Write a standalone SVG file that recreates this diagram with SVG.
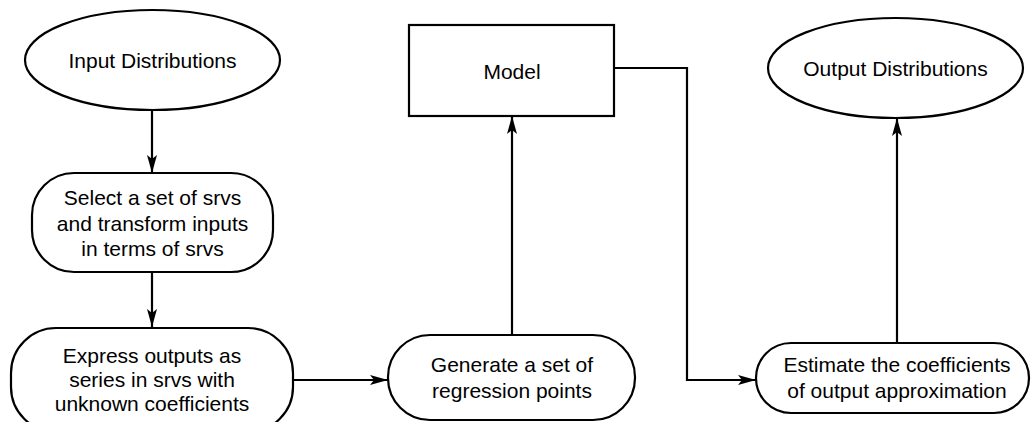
<svg xmlns="http://www.w3.org/2000/svg" width="1031" height="422" viewBox="0 0 1031 422">
<style>
.shape{fill:#fff;stroke:#000;stroke-width:2.2}
.conn{fill:none;stroke:#000;stroke-width:2.2}
text{font-family:"Liberation Sans",Arial,sans-serif;font-size:21px;fill:#000;text-anchor:middle}
</style>
<defs>
<marker id="arr" viewBox="0 0 18 10" refX="18" refY="5" markerWidth="18" markerHeight="10" markerUnits="userSpaceOnUse" orient="auto">
<path d="M0,0 L18,5 L0,10 L4,5 z" fill="#000"/>
</marker>
</defs>
<g id="connectors">
<line class="conn" x1="152" y1="110" x2="152" y2="173" marker-end="url(#arr)"/>
<line class="conn" x1="152" y1="272" x2="152" y2="327" marker-end="url(#arr)"/>
<line class="conn" x1="293" y1="380" x2="388" y2="380" marker-end="url(#arr)"/>
<line class="conn" x1="512" y1="335" x2="512" y2="116" marker-end="url(#arr)"/>
<polyline class="conn" points="614,68 687,68 687,380 756,380" marker-end="url(#arr)"/>
<line class="conn" x1="897" y1="343" x2="897" y2="118" marker-end="url(#arr)"/>
</g>
<g id="input-distributions">
<ellipse class="shape" cx="152.5" cy="60" rx="127.5" ry="50"/>
<text x="152.5" y="68">Input Distributions</text>
</g>
<g id="select-srvs">
<rect class="shape" x="32" y="173" width="241" height="99" rx="42" ry="42"/>
<text x="152.5" y="205">Select a set of srvs</text>
<text x="152.5" y="231">and transform inputs</text>
<text x="152.5" y="256">in terms of srvs</text>
</g>
<g id="express-outputs">
<rect class="shape" x="11" y="328" width="282" height="104" rx="45" ry="45"/>
<text x="152" y="363">Express outputs as</text>
<text x="152" y="387">series in srvs with</text>
<text x="152" y="411">unknown coefficients</text>
</g>
<g id="generate-points">
<rect class="shape" x="388" y="335" width="247" height="85" rx="42" ry="42"/>
<text x="512" y="372">Generate a set of</text>
<text x="512" y="398">regression points</text>
</g>
<g id="model">
<rect class="shape" x="409" y="25" width="205" height="91"/>
<text x="512" y="79">Model</text>
</g>
<g id="estimate-coefficients">
<rect class="shape" x="756" y="343" width="273" height="70" rx="35" ry="35"/>
<text x="897" y="372">Estimate the coefficients</text>
<text x="897" y="398">of output approximation</text>
</g>
<g id="output-distributions">
<ellipse class="shape" cx="895.5" cy="68" rx="127.5" ry="50"/>
<text x="895.5" y="76">Output Distributions</text>
</g>
</svg>
